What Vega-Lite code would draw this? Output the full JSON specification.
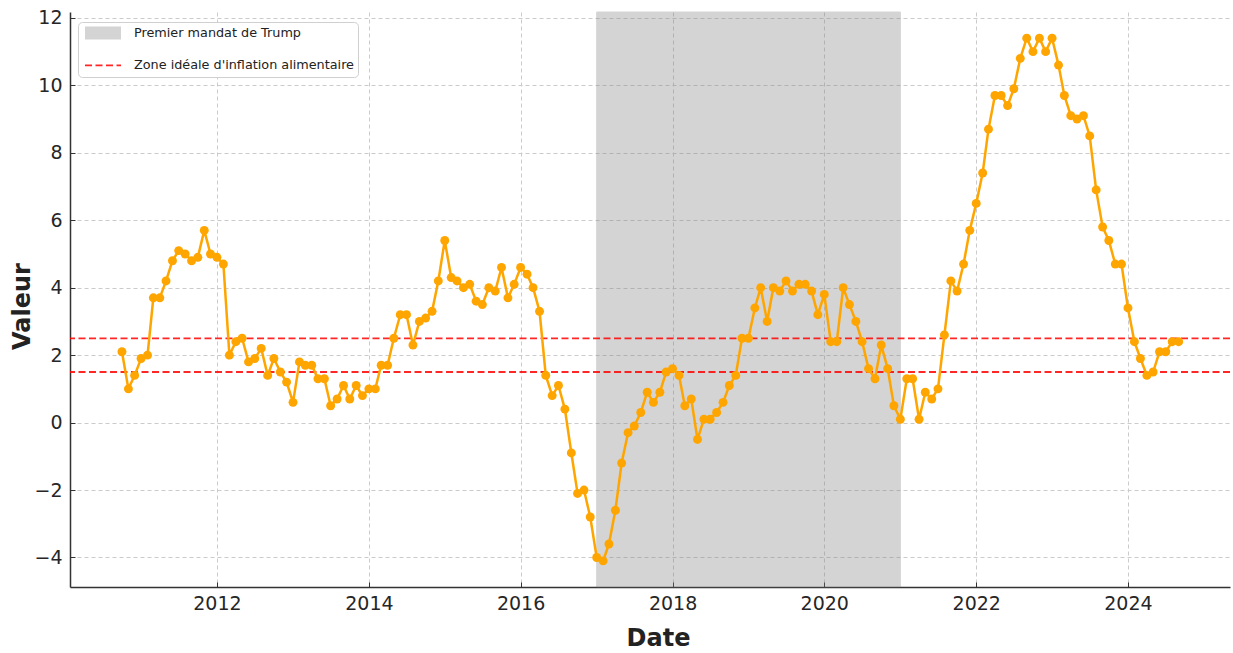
{
  "$schema": "https://vega.github.io/schema/vega-lite/v6.json",
  "width": 1160,
  "height": 575,
  "autosize": {"type": "none"},
  "padding": {"left": 70, "top": 12, "right": 3, "bottom": 66},
  "background": "white",
  "config": {
    "view": {"stroke": null},
    "font": "DejaVu Sans",
    "axis": {
      "labelFont": "DejaVu Sans",
      "titleFont": "DejaVu Sans",
      "labelFontSize": 19,
      "labelColor": "#262626",
      "titleFontSize": 24,
      "titleFontWeight": "bold",
      "titleColor": "#222222",
      "domainColor": "#333333",
      "domainWidth": 1.5,
      "tickColor": "#333333",
      "tickWidth": 1,
      "tickSize": -5,
      "grid": true,
      "gridColor": "#cbcbcb",
      "gridDash": [4, 3],
      "gridWidth": 1
    },
    "legend": {
      "title": null,
      "orient": "none",
      "legendX": 8,
      "legendY": 10,
      "fillColor": "white",
      "strokeColor": "#d0d0d0",
      "cornerRadius": 4,
      "padding": 4,
      "labelFont": "DejaVu Sans",
      "labelFontSize": 12.8,
      "labelColor": "#222222",
      "labelLimit": 0,
      "labelOffset": 38,
      "rowPadding": 0,
      "symbolSize": 1,
      "symbolType": "M-8,0H64"
    }
  },
  "datasets": {
    "zone": [{"debut": "2017-01-01", "fin": "2021-01-01", "legende": "Premier mandat de Trump"}],
    "seuils": [
      {"seuil": 1.5, "legende": "Zone idéale d'inflation alimentaire"},
      {"seuil": 2.5, "legende": "Zone idéale d'inflation alimentaire"}
    ],
    "cpi": [
      {"date": "2010-10-01", "valeur": 2.1}, {"date": "2010-11-01", "valeur": 1.0}, {"date": "2010-12-01", "valeur": 1.4},
      {"date": "2011-01-01", "valeur": 1.9}, {"date": "2011-02-01", "valeur": 2.0}, {"date": "2011-03-01", "valeur": 3.7},
      {"date": "2011-04-01", "valeur": 3.7}, {"date": "2011-05-01", "valeur": 4.2}, {"date": "2011-06-01", "valeur": 4.8},
      {"date": "2011-07-01", "valeur": 5.1}, {"date": "2011-08-01", "valeur": 5.0}, {"date": "2011-09-01", "valeur": 4.8},
      {"date": "2011-10-01", "valeur": 4.9}, {"date": "2011-11-01", "valeur": 5.7}, {"date": "2011-12-01", "valeur": 5.0},
      {"date": "2012-01-01", "valeur": 4.9}, {"date": "2012-02-01", "valeur": 4.7}, {"date": "2012-03-01", "valeur": 2.0},
      {"date": "2012-04-01", "valeur": 2.4}, {"date": "2012-05-01", "valeur": 2.5}, {"date": "2012-06-01", "valeur": 1.8},
      {"date": "2012-07-01", "valeur": 1.9}, {"date": "2012-08-01", "valeur": 2.2}, {"date": "2012-09-01", "valeur": 1.4},
      {"date": "2012-10-01", "valeur": 1.9}, {"date": "2012-11-01", "valeur": 1.5}, {"date": "2012-12-01", "valeur": 1.2},
      {"date": "2013-01-01", "valeur": 0.6}, {"date": "2013-02-01", "valeur": 1.8}, {"date": "2013-03-01", "valeur": 1.7},
      {"date": "2013-04-01", "valeur": 1.7}, {"date": "2013-05-01", "valeur": 1.3}, {"date": "2013-06-01", "valeur": 1.3},
      {"date": "2013-07-01", "valeur": 0.5}, {"date": "2013-08-01", "valeur": 0.7}, {"date": "2013-09-01", "valeur": 1.1},
      {"date": "2013-10-01", "valeur": 0.7}, {"date": "2013-11-01", "valeur": 1.1}, {"date": "2013-12-01", "valeur": 0.8},
      {"date": "2014-01-01", "valeur": 1.0}, {"date": "2014-02-01", "valeur": 1.0}, {"date": "2014-03-01", "valeur": 1.7},
      {"date": "2014-04-01", "valeur": 1.7}, {"date": "2014-05-01", "valeur": 2.5}, {"date": "2014-06-01", "valeur": 3.2},
      {"date": "2014-07-01", "valeur": 3.2}, {"date": "2014-08-01", "valeur": 2.3}, {"date": "2014-09-01", "valeur": 3.0},
      {"date": "2014-10-01", "valeur": 3.1}, {"date": "2014-11-01", "valeur": 3.3}, {"date": "2014-12-01", "valeur": 4.2},
      {"date": "2015-01-01", "valeur": 5.4}, {"date": "2015-02-01", "valeur": 4.3}, {"date": "2015-03-01", "valeur": 4.2},
      {"date": "2015-04-01", "valeur": 4.0}, {"date": "2015-05-01", "valeur": 4.1}, {"date": "2015-06-01", "valeur": 3.6},
      {"date": "2015-07-01", "valeur": 3.5}, {"date": "2015-08-01", "valeur": 4.0}, {"date": "2015-09-01", "valeur": 3.9},
      {"date": "2015-10-01", "valeur": 4.6}, {"date": "2015-11-01", "valeur": 3.7}, {"date": "2015-12-01", "valeur": 4.1},
      {"date": "2016-01-01", "valeur": 4.6}, {"date": "2016-02-01", "valeur": 4.4}, {"date": "2016-03-01", "valeur": 4.0},
      {"date": "2016-04-01", "valeur": 3.3}, {"date": "2016-05-01", "valeur": 1.4}, {"date": "2016-06-01", "valeur": 0.8},
      {"date": "2016-07-01", "valeur": 1.1}, {"date": "2016-08-01", "valeur": 0.4}, {"date": "2016-09-01", "valeur": -0.9},
      {"date": "2016-10-01", "valeur": -2.1}, {"date": "2016-11-01", "valeur": -2.0}, {"date": "2016-12-01", "valeur": -2.8},
      {"date": "2017-01-01", "valeur": -4.0}, {"date": "2017-02-01", "valeur": -4.1}, {"date": "2017-03-01", "valeur": -3.6},
      {"date": "2017-04-01", "valeur": -2.6}, {"date": "2017-05-01", "valeur": -1.2}, {"date": "2017-06-01", "valeur": -0.3},
      {"date": "2017-07-01", "valeur": -0.1}, {"date": "2017-08-01", "valeur": 0.3}, {"date": "2017-09-01", "valeur": 0.9},
      {"date": "2017-10-01", "valeur": 0.6}, {"date": "2017-11-01", "valeur": 0.9}, {"date": "2017-12-01", "valeur": 1.5},
      {"date": "2018-01-01", "valeur": 1.6}, {"date": "2018-02-01", "valeur": 1.4}, {"date": "2018-03-01", "valeur": 0.5},
      {"date": "2018-04-01", "valeur": 0.7}, {"date": "2018-05-01", "valeur": -0.5}, {"date": "2018-06-01", "valeur": 0.1},
      {"date": "2018-07-01", "valeur": 0.1}, {"date": "2018-08-01", "valeur": 0.3}, {"date": "2018-09-01", "valeur": 0.6},
      {"date": "2018-10-01", "valeur": 1.1}, {"date": "2018-11-01", "valeur": 1.4}, {"date": "2018-12-01", "valeur": 2.5},
      {"date": "2019-01-01", "valeur": 2.5}, {"date": "2019-02-01", "valeur": 3.4}, {"date": "2019-03-01", "valeur": 4.0},
      {"date": "2019-04-01", "valeur": 3.0}, {"date": "2019-05-01", "valeur": 4.0}, {"date": "2019-06-01", "valeur": 3.9},
      {"date": "2019-07-01", "valeur": 4.2}, {"date": "2019-08-01", "valeur": 3.9}, {"date": "2019-09-01", "valeur": 4.1},
      {"date": "2019-10-01", "valeur": 4.1}, {"date": "2019-11-01", "valeur": 3.9}, {"date": "2019-12-01", "valeur": 3.2},
      {"date": "2020-01-01", "valeur": 3.8}, {"date": "2020-02-01", "valeur": 2.4}, {"date": "2020-03-01", "valeur": 2.4},
      {"date": "2020-04-01", "valeur": 4.0}, {"date": "2020-05-01", "valeur": 3.5}, {"date": "2020-06-01", "valeur": 3.0},
      {"date": "2020-07-01", "valeur": 2.4}, {"date": "2020-08-01", "valeur": 1.6}, {"date": "2020-09-01", "valeur": 1.3},
      {"date": "2020-10-01", "valeur": 2.3}, {"date": "2020-11-01", "valeur": 1.6}, {"date": "2020-12-01", "valeur": 0.5},
      {"date": "2021-01-01", "valeur": 0.1}, {"date": "2021-02-01", "valeur": 1.3}, {"date": "2021-03-01", "valeur": 1.3},
      {"date": "2021-04-01", "valeur": 0.1}, {"date": "2021-05-01", "valeur": 0.9}, {"date": "2021-06-01", "valeur": 0.7},
      {"date": "2021-07-01", "valeur": 1.0}, {"date": "2021-08-01", "valeur": 2.6}, {"date": "2021-09-01", "valeur": 4.2},
      {"date": "2021-10-01", "valeur": 3.9}, {"date": "2021-11-01", "valeur": 4.7}, {"date": "2021-12-01", "valeur": 5.7},
      {"date": "2022-01-01", "valeur": 6.5}, {"date": "2022-02-01", "valeur": 7.4}, {"date": "2022-03-01", "valeur": 8.7},
      {"date": "2022-04-01", "valeur": 9.7}, {"date": "2022-05-01", "valeur": 9.7}, {"date": "2022-06-01", "valeur": 9.4},
      {"date": "2022-07-01", "valeur": 9.9}, {"date": "2022-08-01", "valeur": 10.8}, {"date": "2022-09-01", "valeur": 11.4},
      {"date": "2022-10-01", "valeur": 11.0}, {"date": "2022-11-01", "valeur": 11.4}, {"date": "2022-12-01", "valeur": 11.0},
      {"date": "2023-01-01", "valeur": 11.4}, {"date": "2023-02-01", "valeur": 10.6}, {"date": "2023-03-01", "valeur": 9.7},
      {"date": "2023-04-01", "valeur": 9.1}, {"date": "2023-05-01", "valeur": 9.0}, {"date": "2023-06-01", "valeur": 9.1},
      {"date": "2023-07-01", "valeur": 8.5}, {"date": "2023-08-01", "valeur": 6.9}, {"date": "2023-09-01", "valeur": 5.8},
      {"date": "2023-10-01", "valeur": 5.4}, {"date": "2023-11-01", "valeur": 4.7}, {"date": "2023-12-01", "valeur": 4.7},
      {"date": "2024-01-01", "valeur": 3.4}, {"date": "2024-02-01", "valeur": 2.4}, {"date": "2024-03-01", "valeur": 1.9},
      {"date": "2024-04-01", "valeur": 1.4}, {"date": "2024-05-01", "valeur": 1.5}, {"date": "2024-06-01", "valeur": 2.1},
      {"date": "2024-07-01", "valeur": 2.1}, {"date": "2024-08-01", "valeur": 2.4}, {"date": "2024-09-01", "valeur": 2.4}
    ]
  },
  "layer": [
    {
      "data": {"name": "zone"},
      "mark": {"type": "rect", "stroke": "#808080", "strokeWidth": 1},
      "encoding": {
        "x": {
          "field": "debut", "type": "temporal",
          "scale": {"type": "utc", "domain": ["2010-01-24", "2025-05-06"]},
          "axis": {"title": "Date", "format": "%Y", "tickCount": {"interval": "year", "step": 2}, "labelPadding": 12.5, "titleX": 588, "titleY": 51, "titleBaseline": "middle"}
        },
        "x2": {"field": "fin"},
        "color": {
          "field": "legende", "type": "nominal",
          "scale": {"domain": ["Premier mandat de Trump", "Zone idéale d'inflation alimentaire"], "range": ["#808080", "#ff0000"]}
        },
        "opacity": {
          "field": "legende", "type": "nominal",
          "scale": {"type": "ordinal", "domain": ["Premier mandat de Trump", "Zone idéale d'inflation alimentaire"], "range": [0.33, 0.85]}
        }
      }
    },
    {
      "data": {"name": "seuils"},
      "mark": {"type": "rule"},
      "encoding": {
        "y": {
          "field": "seuil", "type": "quantitative",
          "scale": {"domain": [-4.875, 12.175], "zero": false, "nice": false},
          "axis": {"title": "Valeur", "values": [-4, -2, 0, 2, 4, 6, 8, 10, 12], "labelPadding": 13, "titleX": -48, "titleY": 294, "titleBaseline": "middle"}
        },
        "color": {
          "field": "legende", "type": "nominal",
          "scale": {"domain": ["Premier mandat de Trump", "Zone idéale d'inflation alimentaire"], "range": ["#808080", "#ff0000"]}
        },
        "opacity": {
          "field": "legende", "type": "nominal",
          "scale": {"type": "ordinal", "domain": ["Premier mandat de Trump", "Zone idéale d'inflation alimentaire"], "range": [0.33, 0.85]}
        },
        "strokeDash": {
          "field": "legende", "type": "nominal",
          "scale": {"domain": ["Premier mandat de Trump", "Zone idéale d'inflation alimentaire"], "range": [[1, 0], [7, 3.5]]}
        },
        "strokeWidth": {
          "field": "legende", "type": "nominal",
          "scale": {"type": "ordinal", "domain": ["Premier mandat de Trump", "Zone idéale d'inflation alimentaire"], "range": [13, 1.8]}
        }
      }
    },
    {
      "data": {"name": "cpi"},
      "mark": {"type": "line", "color": "#FFA500", "strokeWidth": 2.5, "point": {"filled": true, "size": 80, "color": "#FFA500", "opacity": 1}},
      "encoding": {
        "x": {
          "field": "date", "type": "temporal",
          "scale": {"type": "utc", "domain": ["2010-01-24", "2025-05-06"]},
          "axis": {"title": "Date", "format": "%Y", "tickCount": {"interval": "year", "step": 2}, "labelPadding": 12.5, "titleX": 588, "titleY": 51, "titleBaseline": "middle"}
        },
        "y": {
          "field": "valeur", "type": "quantitative",
          "scale": {"domain": [-4.875, 12.175], "zero": false, "nice": false},
          "axis": {"title": "Valeur", "values": [-4, -2, 0, 2, 4, 6, 8, 10, 12], "labelPadding": 13, "titleX": -48, "titleY": 294, "titleBaseline": "middle"}
        }
      }
    }
  ]
}
